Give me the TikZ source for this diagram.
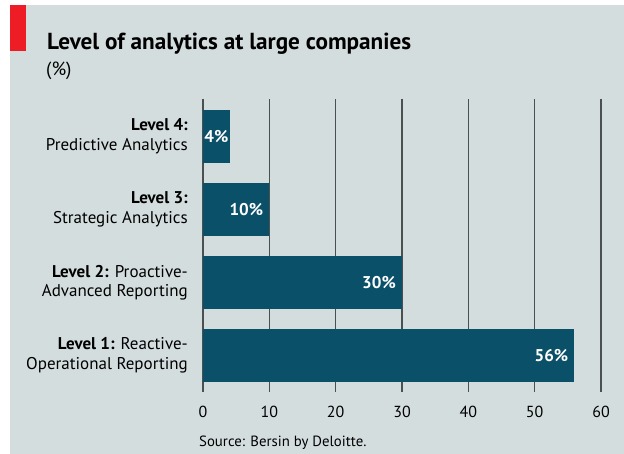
\documentclass[tikz,border=0pt]{standalone}
\usepackage{fontspec}
\setmainfont{PT Sans}
\definecolor{bg}{HTML}{D4DDDE}
\definecolor{barc}{HTML}{0B5069}
\definecolor{redc}{HTML}{EE1C25}
\definecolor{gridc}{HTML}{4A4F50}
\begin{document}
\begin{tikzpicture}[x=1pt,y=-1pt,
  gridline/.style={gridc,line width=1.4pt},
  barbox/.style={fill=barc,draw=none},
  catlabel/.style={anchor=east,align=right,font=\fontsize{17}{19.5}\selectfont,text=black,inner sep=0pt},
  vallabel/.style={anchor=east,font=\bfseries\fontsize{17}{19}\selectfont,text=white,inner sep=0pt},
  ticklabel/.style={anchor=center,font=\fontsize{16}{18}\selectfont,inner sep=0pt}]
\useasboundingbox (0,0) rectangle (624,454);
\fill[white] (0,0) rectangle (624,454);
\fill[bg] (10,5) rectangle (624,454);
\fill[redc] (10,5) rectangle (26,51);
\node[anchor=base west,inner sep=0pt,font=\bfseries\fontsize{23.2}{26}\selectfont] (title) at (47,50) {Level of analytics at large companies};
\node[anchor=base west,inner sep=0pt,font=\fontsize{19}{22}\selectfont] (unit) at (46,76) {(\%)};
% gridlines
\foreach \k in {0,...,6}{
  \coordinate (gt\k) at ({203+\k*66.333},99);
  \coordinate (gb\k) at ({203+\k*66.333},392);
  \draw[gridline] (gt\k) -- (gb\k);
  \node[ticklabel] (tl\k) at ({203+\k*66.333},412) {\the\numexpr\k*10\relax};
}
% bars
\fill[barbox] (203,110) rectangle ({203+4*6.6333},163);
\fill[barbox] (203,183) rectangle ({203+10*6.6333},236);
\fill[barbox] (203,256) rectangle ({203+30*6.6333},309);
\fill[barbox] (203,329) rectangle ({203+56*6.6333},382);
% value labels
\node[vallabel] (v4) at ({203+4*6.6333-1},136.5) {4\%};
\node[vallabel] (v3) at ({203+10*6.6333-6},209.5) {10\%};
\node[vallabel] (v2) at ({203+30*6.6333-6},282.5) {30\%};
\node[vallabel] (v1) at ({203+56*6.6333-6},355.5) {56\%};
% category labels
\node[catlabel] (c4) at (188,136.5) {\textbf{Level 4:}\\Predictive Analytics};
\node[catlabel] (c3) at (188,209.5) {\textbf{Level 3:}\\Strategic Analytics};
\node[catlabel] (c2) at (188,282.5) {\textbf{Level 2:} Proactive-\\Advanced Reporting};
\node[catlabel] (c1) at (188,355.5) {\textbf{Level 1:} Reactive-\\Operational Reporting};
\node[anchor=base west,inner sep=0pt,font=\fontsize{14.8}{17}\selectfont] (src) at (199,446) {Source: Bersin by Deloitte.};
\end{tikzpicture}
\end{document}
